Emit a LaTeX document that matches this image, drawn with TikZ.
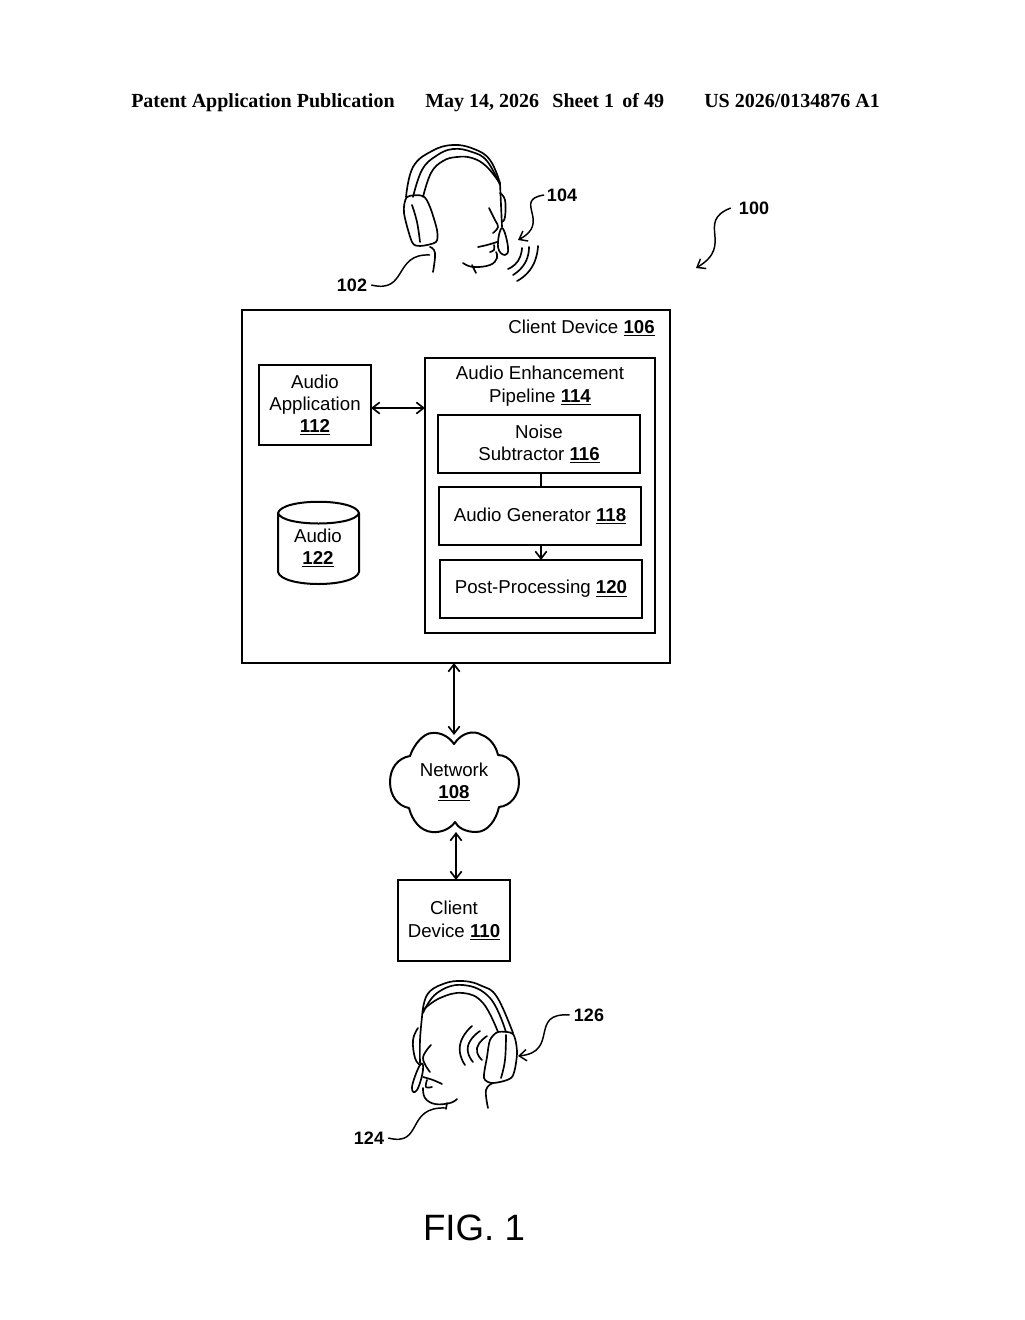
\documentclass[tikz,border=0pt]{standalone}
\usepackage{fontspec}
\setmainfont{Liberation Sans}
\newfontfamily\headerFont{Liberation Serif}
\usetikzlibrary{arrows.meta}
\tikzstyle{sheet} = [x = .75pt, y = -.75pt, >={Straight Barb[length=5.5pt,width=8.5pt]}]
\tikzstyle{blockStyle} = [draw=black, line width=1.5pt, fill=white, inner sep=0pt, outer sep=0pt, align=center, font=\fontsize{14}{16.8}\selectfont]
\tikzstyle{blockText} = [inner sep=0pt, align=center, font=\fontsize{14}{16.8}\selectfont]
\tikzstyle{linkLine} = [black, line width=1.25pt]
\tikzstyle{leaderLine} = [black, line width=1.1pt]
\tikzstyle{sketchLine} = [black, line width=1.25pt, line cap=round, line join=round]
\tikzstyle{refLabel} = [inner sep=0pt, font=\fontsize{13.5}{15}\selectfont\bfseries]
\tikzstyle{headerText} = [inner sep=0pt, font=\fontsize{15}{16}\selectfont\headerFont\bfseries]
\newcommand{\refNum}[1]{\underline{\textbf{#1}}}
% name, left, top, right, bottom, text
\newcommand{\blockNode}[6]{
  \pgfmathsetmacro{\blockWidth}{(#4 - #2) * .75}
  \pgfmathsetmacro{\blockHeight}{(#5 - #3) * .75}
  \node [blockStyle, minimum width=\blockWidth pt, minimum height=\blockHeight pt] (#1) at ({(#2 + #4) / 2}, {(#3 + #5) / 2}) {#6};
}
\newcommand{\sketch}[1]{\draw [sketchLine] plot [smooth, tension=.7] coordinates {#1};}
\newcommand{\soundArc}[1]{\draw [sketchLine] plot [smooth, tension=1] coordinates {#1};}
\newcommand{\earCup}[1]{\draw [sketchLine] plot [smooth cycle, tension=.45] coordinates {#1};}
\begin{document}
\begin{tikzpicture}[sheet]
  \useasboundingbox (0,0) rectangle (1024,1320);

  % page header
  \node [headerText, anchor=base west] (headerLeft) at (131,108) {Patent Application\ Publication};
  \node [headerText, anchor=base west] (headerMiddle) at (425,108) {May 14, 2026\ \ \,Sheet\ 1\,\ of 49};
  \node [headerText, anchor=base west] (headerRight) at (704,108) {US 2026/0134876 A1};

  % boxes
  \blockNode{clientDevice}{242}{310}{670}{663}{}
  \blockNode{audioApplication}{259}{365}{371}{445}{Audio\\Application\\\refNum{112}}
  \blockNode{audioPipeline}{425}{358}{655}{633}{}
  \blockNode{noiseSubtractor}{438}{415}{640}{473}{Noise\\Subtractor \refNum{116}}
  \blockNode{audioGenerator}{439}{487}{641}{545}{Audio Generator \refNum{118}}
  \blockNode{postProcessing}{440}{560}{642}{618}{Post-Processing \refNum{120}}
  \blockNode{remoteDevice}{398}{880}{510}{961}{Client\\Device \refNum{110}}
  \node [blockText, anchor=east] (clientTitle) at (655,328) {Client Device \refNum{106}};
  \node [blockText] (pipelineTitle) at (540,386) {Audio Enhancement\\Pipeline \refNum{114}};

  % audio store
  \draw [black, line width=1.5pt, line join=round] (278,513) -- (278,572)
    .. controls (282,588) and (355,588) .. (359,572) -- (359,513)
    .. controls (355,498) and (282,498) .. (278,513)
    .. controls (282,527) and (355,527) .. (359,513);
  \node [blockText] (audioStore) at (318,548) {Audio\\\refNum{122}};

  % network
  \draw [black, line width=1.5pt, line join=round]
    (454,744) .. controls (462,732) and (474,730) .. (482,735)
    .. controls (490,738) and (496,746) .. (498,755)
    .. controls (510,755) and (519,768) .. (519,782)
    .. controls (519,796) and (510,806) .. (499,807)
    .. controls (496,820) and (488,832) .. (476,832)
    .. controls (466,832) and (458,828) .. (455,822)
    .. controls (451,828) and (442,833) .. (432,832)
    .. controls (420,831) and (412,820) .. (409,808)
    .. controls (398,806) and (390,796) .. (390,782)
    .. controls (390,768) and (398,758) .. (410,756)
    .. controls (414,744) and (424,733) .. (432,733)
    .. controls (442,732) and (450,738) .. (454,744) -- cycle;
  \node [blockText] (network) at (454,782) {Network\\\refNum{108}};
  \coordinate (networkTop) at (454,735);
  \coordinate (networkBottom) at (456,832);

  % connectors
  \draw [linkLine, <->] ([yshift=-2.25pt]audioApplication.east) -- ([yshift=-2.25pt]audioApplication.east -| audioPipeline.west);
  \draw [linkLine] (noiseSubtractor.south -| postProcessing.north) -- (audioGenerator.north -| postProcessing.north);
  \draw [linkLine, ->] (audioGenerator.south -| postProcessing.north) -- (postProcessing.north);
  \draw [linkLine, <->] (clientDevice.south -| networkTop) -- (networkTop);
  \draw [linkLine, <->] (networkBottom) -- (remoteDevice.north -| networkBottom);

  % speaker
  \sketch{(406,197) (413,167) (432,151) (453,145) (474,149) (490,160) (500,183)}
  \sketch{(413,197) (422,170) (436,156) (453,149) (472,152) (487,161) (500,185)}
  \sketch{(423,197) (431,173) (443,161) (457,157) (472,158) (486,166) (499,182)}
  \earCup{(407,197) (423,196) (430,207) (437,230) (436,242) (420,246) (412,242) (404,213)}
  \sketch{(412,205) (417,222) (420,242)}
  \sketch{(430,247) (435,253) (433,272)}
  \sketch{(500,183) (501,205) (502,227)}
  \sketch{(500,193) (505,200) (505,217) (502,222)}
  \draw [sketchLine] plot [smooth cycle, tension=.8] coordinates {(502,228) (498,247) (505,255) (508,247)};
  \sketch{(489,208) (495,220) (498,227) (493,233)}
  \sketch{(478,247) (487,245) (497,242)}
  \sketch{(490,252) (494,250) (494,245)}
  \sketch{(463,263) (473,267) (490,265) (497,258) (496,252)}
  \sketch{(472,265) (476,273)}
  \soundArc{(522,248) (518,261) (508,269)}
  \soundArc{(529,247) (525,263) (513,275)}
  \soundArc{(538,246) (532,267) (517,281)}

  % listener
  \sketch{(422,1017) (427,995) (443,984) (463,981) (482,986) (497,997) (513,1033)}
  \sketch{(423,1013) (437,993) (463,985) (490,998) (506,1032)}
  \sketch{(423,1010) (440,998) (463,993) (483,1003) (498,1032)}
  \earCup{(498,1032) (513,1034) (517,1053) (512,1077) (493,1083) (484,1078) (487,1057) (490,1040)}
  \sketch{(506,1035) (505,1060) (501,1078)}
  \sketch{(493,1083) (486,1090) (488,1108)}
  \sketch{(422,1017) (420,1040) (420,1063)}
  \sketch{(418,1028) (413,1040) (415,1058) (420,1065)}
  \draw [sketchLine] plot [smooth cycle, tension=.8] coordinates {(420,1065) (412,1087) (417,1090) (423,1070)};
  \sketch{(431,1045) (423,1058) (430,1072)}
  \sketch{(423,1077) (433,1080) (442,1084)}
  \sketch{(427,1080) (426,1087) (432,1087)}
  \sketch{(423,1088) (425,1098) (435,1104) (450,1103) (457,1099)}
  \sketch{(447,1103) (446,1109)}
  \soundArc{(472,1026) (460,1045) (465,1065)}
  \soundArc{(480,1031) (468,1046) (473,1062)}
  \soundArc{(487,1036) (477,1048) (482,1060)}

  % reference labels
  \node [refLabel] (label100) at (754,208) {100};
  \node [refLabel] (label102) at (352,285) {102};
  \node [refLabel] (label104) at (562,195) {104};
  \node [refLabel] (label124) at (369,1138) {124};
  \node [refLabel] (label126) at (589,1015) {126};
  \coordinate (sheetArrow) at (696,268);
  \coordinate (speakerNeck) at (430,255);
  \coordinate (speakerMouth) at (518,240);
  \coordinate (listenerChin) at (446,1108);
  \coordinate (listenerCup) at (518,1056);
  \draw [leaderLine, ->] ([xshift=-6pt]label100.west) .. controls (695,222) and (735,245) .. (sheetArrow);
  \draw [leaderLine] ([xshift=3pt]label102.east) .. controls (408,294) and (393,253) .. (speakerNeck);
  \draw [leaderLine, ->] ([xshift=-2pt]label104.west) .. controls (512,200) and (552,222) .. (speakerMouth);
  \draw [leaderLine] ([xshift=3pt]label124.east) .. controls (424,1147) and (405,1106) .. (listenerChin);
  \draw [leaderLine, ->] ([xshift=-3pt]label126.west) .. controls (528,1012) and (560,1052) .. (listenerCup);

  \node [inner sep=0pt, font=\fontsize{27.5}{32}\selectfont] (figLabel) at (474,1228) {FIG. 1};
\end{tikzpicture}
\end{document}
